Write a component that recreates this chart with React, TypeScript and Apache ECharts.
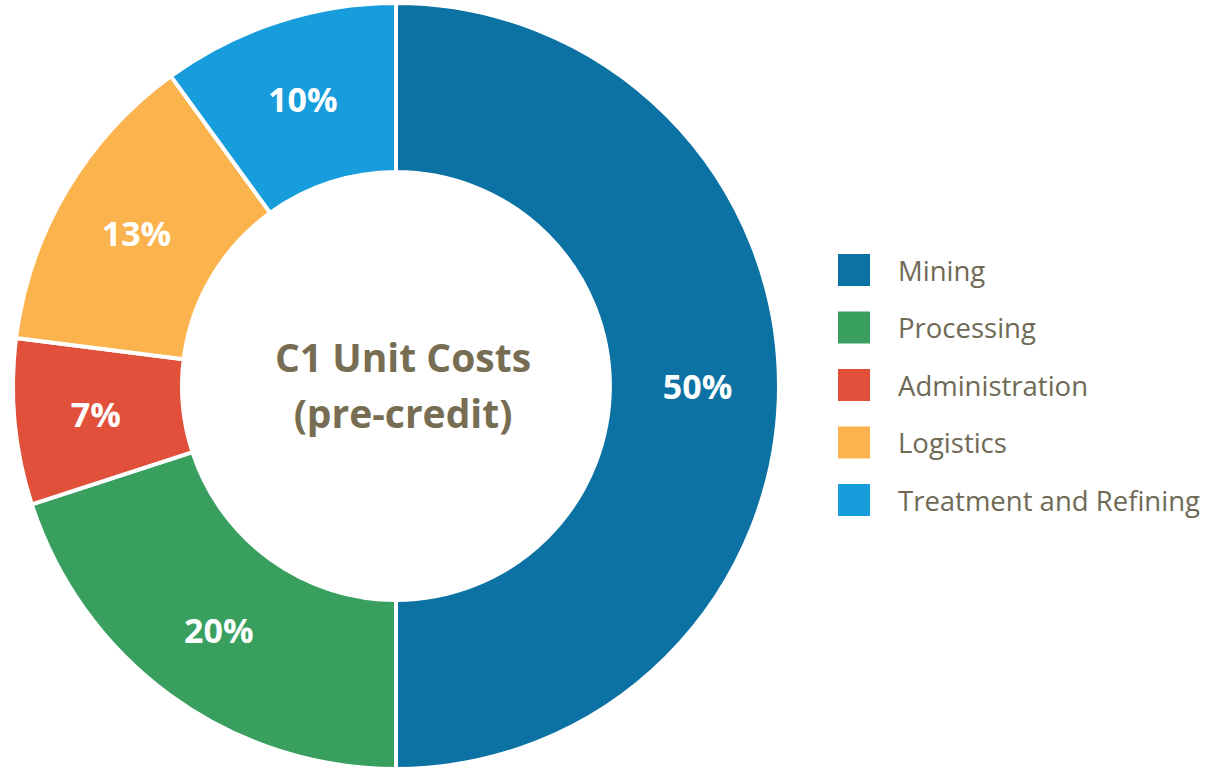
import React, { useEffect, useRef } from "react";
import * as echarts from "echarts";

const categories = ["Mining", "Processing", "Administration", "Logistics", "Treatment and Refining"];
const values = [50, 20, 7, 13, 10];
const colors = ["#0B72A3", "#389F5F", "#E0503A", "#FBB44D", "#179CDC"];
const centerLines = ["C1 Unit Costs", "(pre-credit)"];

const FONT = "'Open Sans', Lato, sans-serif";

export default function App() {
  const ref = useRef<HTMLDivElement>(null);
  useEffect(() => {
    if (!ref.current) return;
    const chart = echarts.init(ref.current, null, { renderer: "svg" });
    chart.setOption({
      animation: false,
      backgroundColor: "#ffffff",
      color: colors,
      title: {
        text: centerLines.join("\n"),
        left: 398,
        top: 379,
        textAlign: "center",
        textVerticalAlign: "middle",
        textStyle: {
          fontFamily: FONT,
          fontWeight: "bold",
          fontSize: 39,
          lineHeight: 56,
          color: "#766D52",
        },
      },
      legend: {
        orient: "vertical",
        left: 831,
        top: 247,
        itemWidth: 34,
        itemHeight: 34,
        itemGap: 21.5,
        icon: "rect",
        data: categories,
        textStyle: {
          fontFamily: FONT,
          fontSize: 27.5,
          color: "#6E6A55",
          padding: [0, 0, 0, 22],
        },
      },
      series: [
        {
          type: "pie",
          center: [396, 386],
          radius: [214, 383],
          startAngle: 90,
          clockwise: true,
          itemStyle: { borderColor: "#ffffff", borderWidth: 4 },
          label: {
            show: true,
            position: "inside",
            formatter: "{c}%",
            color: "#ffffff",
            fontFamily: FONT,
            fontWeight: "bold",
            fontSize: 34,
          },
          labelLine: { show: false },
          emphasis: { disabled: true },
          data: categories.map((name, i) => ({ name, value: values[i] })),
        },
      ],
    });
    return () => chart.dispose();
  }, []);
  return (
    <div
      ref={ref}
      style={{ position: "fixed", left: 0, top: 0, width: 1214, height: 769 }}
    />
  );
}
